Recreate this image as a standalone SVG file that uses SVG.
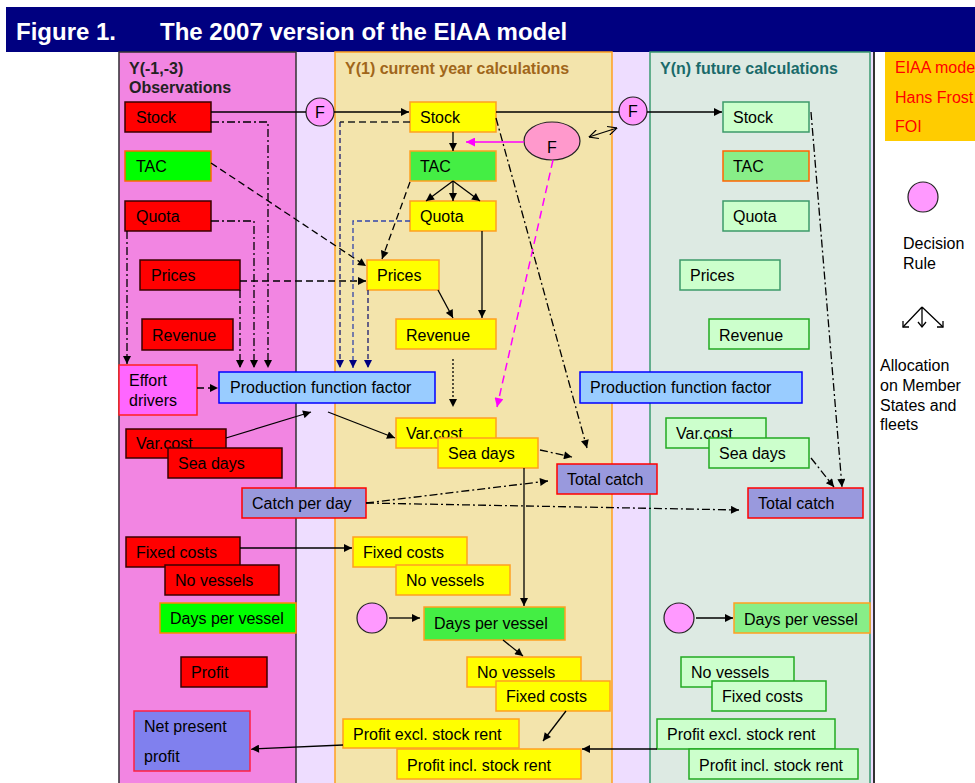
<svg xmlns="http://www.w3.org/2000/svg" width="975" height="783" viewBox="0 0 975 783">
<style>
text{font-family:"Liberation Sans",Arial,sans-serif;font-size:16px;fill:#000}
.hd{font-weight:bold}
.r{fill:#FF0000;stroke:#3a0000;stroke-width:1.5}
.y{fill:#FFFF00;stroke:#FFA020;stroke-width:1.5}
.g{fill:#CCFFCC;stroke:#3C9A6A;stroke-width:1.5}
.tc{fill:#9999DD;stroke:#FF0000;stroke-width:1.5}
.pf{fill:#99CCFF;stroke:#0000FF;stroke-width:1.5}
.dr{fill:#FF99FF;stroke:#222;stroke-width:1.2}
.c{fill:none;stroke:#000;stroke-width:1.3}
.dd{stroke-dasharray:8 3 2 3}
.ds{stroke-dasharray:7 4}
</style>
<defs>
<marker id="a" viewBox="0 0 10 10" refX="10" refY="5" markerWidth="10" markerHeight="8" markerUnits="userSpaceOnUse" orient="auto"><path d="M0,0 L10,5 L0,10 z" fill="#000"/></marker>
<marker id="an" viewBox="0 0 10 10" refX="10" refY="5" markerWidth="10" markerHeight="8" markerUnits="userSpaceOnUse" orient="auto"><path d="M0,0 L10,5 L0,10 z" fill="#000080"/></marker>
<marker id="am" viewBox="0 0 10 10" refX="10" refY="5" markerWidth="11" markerHeight="9" markerUnits="userSpaceOnUse" orient="auto"><path d="M0,0 L10,5 L0,10 z" fill="#FF00FF"/></marker>
<marker id="ao" viewBox="0 0 10 10" refX="10" refY="5" markerWidth="10" markerHeight="9" markerUnits="userSpaceOnUse" orient="auto-start-reverse"><path d="M0,0 L10,5 L0,10" fill="none" stroke="#000" stroke-width="1.3"/></marker>
</defs>

<!-- title bar -->
<rect x="6" y="7" width="969" height="45" fill="#000080"/>
<text x="16" y="40" class="hd" style="font-size:24px;fill:#fff">Figure 1.</text>
<text x="160" y="40" class="hd" style="font-size:24px;fill:#fff">The 2007 version of the EIAA model</text>

<!-- columns -->
<rect x="118" y="52" width="757" height="735" fill="#EEDDFF"/>
<rect x="119" y="52" width="177" height="735" fill="#F285E2" stroke="#333" stroke-width="1.5"/>
<rect x="335" y="52" width="277" height="735" fill="#F3E4AC" stroke="#FFA020" stroke-width="1.5"/>
<rect x="650" y="52" width="220" height="735" fill="#DDEAE3" stroke="#3A9A70" stroke-width="1.5"/>
<line x1="874" y1="52" x2="874" y2="783" stroke="#333" stroke-width="2"/>
<text x="129" y="74" class="hd" style="fill:#222">Y(-1,-3)</text>
<text x="129" y="93" class="hd" style="fill:#222">Observations</text>
<text x="345" y="74" class="hd" style="fill:#A0661A">Y(1) current year calculations</text>
<text x="660" y="74" class="hd" style="fill:#1A6A6A">Y(n) future calculations</text>

<!-- legend -->
<g id="legend">
<rect x="885" y="52" width="90" height="89" fill="#FFCC00"/>
<text x="895" y="73" style="fill:#FF0000">EIAA model</text>
<text x="895" y="103" style="fill:#FF0000">Hans Frost</text>
<text x="895" y="132" style="fill:#FF0000">FOI</text>
<circle cx="923" cy="197" r="15" class="dr"/>
<text x="903" y="249">Decision</text>
<text x="903" y="269">Rule</text>
<path d="M922,307 L903,327 M922,307 L922,327 M922,307 L943,327" class="c"/>
<path d="M903,321 L903,327 L909,327 M918,322 L922,327 L926,322 M937,327 L943,327 L943,321" class="c"/>
<text x="880" y="371">Allocation</text>
<text x="880" y="391">on Member</text>
<text x="880" y="411">States and</text>
<text x="880" y="430">fleets</text>
</g>

<!-- left column nodes -->
<g id="obs_stock"><rect x="125" y="102" width="86" height="30" class="r"/><text x="136" y="123">Stock</text></g>
<g id="obs_tac"><rect x="125" y="151" width="86" height="30" fill="#00FF00" stroke="#FF6600" stroke-width="1.5"/><text x="136" y="172">TAC</text></g>
<g id="obs_quota"><rect x="125" y="201" width="86" height="30" class="r"/><text x="136" y="222">Quota</text></g>
<g id="obs_prices"><rect x="140" y="260" width="100" height="30" class="r"/><text x="151" y="281">Prices</text></g>
<g id="obs_revenue"><rect x="142" y="319" width="91" height="31" class="r"/><text x="152" y="341">Revenue</text></g>
<g id="effort"><rect x="119" y="365" width="78" height="50" fill="#FF66FF" stroke="#FF2020" stroke-width="1.5"/><text x="129" y="386">Effort</text><text x="129" y="406">drivers</text></g>
<g id="pff1"><rect x="219" y="372" width="216" height="31" class="pf"/><text x="230" y="393">Production function factor</text></g>
<g id="obs_varcost"><rect x="126" y="429" width="100" height="29" class="r"/><text x="136" y="449">Var.cost</text></g>
<g id="obs_seadays"><rect x="168" y="448" width="114" height="30" class="r"/><text x="178" y="469">Sea days</text></g>
<g id="catchperday"><rect x="242" y="488" width="124" height="30" class="tc"/><text x="252" y="509">Catch per day</text></g>
<g id="obs_fixed"><rect x="126" y="537" width="114" height="30" class="r"/><text x="136" y="558">Fixed costs</text></g>
<g id="obs_novessels"><rect x="165" y="565" width="114" height="30" class="r"/><text x="175" y="586">No vessels</text></g>
<g id="obs_days"><rect x="160" y="603" width="136" height="30" fill="#00FF00" stroke="#FF8800" stroke-width="1.5"/><text x="170" y="624">Days per vessel</text></g>
<g id="obs_profit"><rect x="181" y="657" width="86" height="30" class="r"/><text x="191" y="678">Profit</text></g>
<g id="npp"><rect x="134" y="711" width="116" height="60" fill="#8080EE" stroke="#FF2040" stroke-width="1.5"/><text x="144" y="732">Net present</text><text x="144" y="762">profit</text></g>

<!-- middle column nodes -->
<g id="f1"><circle cx="320" cy="112" r="14" class="dr"/><text x="320" y="118" text-anchor="middle">F</text></g>
<g id="f2"><circle cx="633" cy="111" r="14" class="dr"/><text x="633" y="117" text-anchor="middle">F</text></g>
<g id="fell"><ellipse cx="552" cy="141" rx="28" ry="19" fill="#FF99CC" stroke="#222" stroke-width="1.2"/><text x="552" y="153" text-anchor="middle">F</text></g>
<g id="y_stock"><rect x="410" y="102" width="86" height="30" class="y"/><text x="420" y="123">Stock</text></g>
<g id="y_tac"><rect x="410" y="151" width="86" height="30" fill="#44EE44" stroke="#FFA020" stroke-width="1.5"/><text x="420" y="172">TAC</text></g>
<g id="y_quota"><rect x="410" y="201" width="86" height="30" class="y"/><text x="420" y="222">Quota</text></g>
<g id="y_prices"><rect x="367" y="260" width="72" height="30" class="y"/><text x="377" y="281">Prices</text></g>
<g id="y_revenue"><rect x="396" y="319" width="100" height="30" class="y"/><text x="406" y="341">Revenue</text></g>
<g id="y_varcost"><rect x="396" y="418" width="100" height="30" class="y"/><text x="406" y="439">Var.cost</text></g>
<g id="y_seadays"><rect x="438" y="438" width="100" height="30" class="y"/><text x="448" y="459">Sea days</text></g>
<g id="y_total"><rect x="557" y="464" width="100" height="30" class="tc"/><text x="567" y="485">Total catch</text></g>
<g id="y_fixed"><rect x="353" y="537" width="114" height="30" class="y"/><text x="363" y="558">Fixed costs</text></g>
<g id="y_novessels"><rect x="396" y="565" width="114" height="30" class="y"/><text x="406" y="586">No vessels</text></g>
<g id="y_rule"><circle cx="372" cy="618" r="15" class="dr"/></g>
<g id="y_days"><rect x="424" y="607" width="141" height="33" fill="#44EE44" stroke="#FFA020" stroke-width="1.5"/><text x="434" y="629">Days per vessel</text></g>
<g id="y_novessels2"><rect x="467" y="657" width="114" height="30" class="y"/><text x="477" y="678">No vessels</text></g>
<g id="y_fixed2"><rect x="496" y="681" width="114" height="30" class="y"/><text x="506" y="702">Fixed costs</text></g>
<g id="y_pex"><rect x="343" y="719" width="176" height="29" class="y"/><text x="353" y="740">Profit excl. stock rent</text></g>
<g id="y_pin"><rect x="397" y="749" width="184" height="30" class="y"/><text x="407" y="771">Profit incl. stock rent</text></g>

<!-- right column nodes -->
<g id="n_stock"><rect x="723" y="102" width="86" height="30" class="g"/><text x="733" y="123">Stock</text></g>
<g id="n_tac"><rect x="723" y="151" width="86" height="30" fill="#88EE88" stroke="#FF6600" stroke-width="1.5"/><text x="733" y="172">TAC</text></g>
<g id="n_quota"><rect x="723" y="201" width="86" height="30" class="g"/><text x="733" y="222">Quota</text></g>
<g id="n_prices"><rect x="680" y="260" width="100" height="30" class="g"/><text x="690" y="281">Prices</text></g>
<g id="n_revenue"><rect x="709" y="319" width="100" height="30" fill="#CCFFCC" stroke="#22AA22" stroke-width="1.5"/><text x="719" y="341">Revenue</text></g>
<g id="pff2"><rect x="580" y="372" width="222" height="31" class="pf"/><text x="590" y="393">Production function factor</text></g>
<g id="n_varcost"><rect x="666" y="418" width="100" height="30" fill="#CCFFCC" stroke="#22AA22" stroke-width="1.5"/><text x="676" y="439">Var.cost</text></g>
<g id="n_seadays"><rect x="709" y="438" width="100" height="30" fill="#CCFFCC" stroke="#22AA22" stroke-width="1.5"/><text x="719" y="459">Sea days</text></g>
<g id="n_total"><rect x="748" y="488" width="115" height="30" class="tc"/><text x="758" y="509">Total catch</text></g>
<g id="n_rule"><circle cx="679" cy="618" r="15" class="dr"/></g>
<g id="n_days"><rect x="734" y="603" width="136" height="30" fill="#88EE88" stroke="#FFA020" stroke-width="1.5"/><text x="744" y="625">Days per vessel</text></g>
<g id="n_novessels"><rect x="681" y="657" width="113" height="30" fill="#CCFFCC" stroke="#22AA22" stroke-width="1.5"/><text x="691" y="678">No vessels</text></g>
<g id="n_fixed"><rect x="712" y="681" width="114" height="30" fill="#CCFFCC" stroke="#22AA22" stroke-width="1.5"/><text x="722" y="702">Fixed costs</text></g>
<g id="n_pex"><rect x="657" y="719" width="178" height="30" fill="#CCFFCC" stroke="#22AA22" stroke-width="1.5"/><text x="667" y="740">Profit excl. stock rent</text></g>
<g id="n_pin"><rect x="689" y="749" width="169" height="30" fill="#CCFFCC" stroke="#22AA22" stroke-width="1.5"/><text x="699" y="771">Profit incl. stock rent</text></g>

<!-- connectors -->
<g id="connectors">
<line x1="211" y1="112" x2="306" y2="112" class="c"/>
<line x1="334" y1="112" x2="409" y2="112" class="c" marker-end="url(#a)"/>
<line x1="496" y1="112" x2="619" y2="112" class="c"/>
<line x1="647" y1="112" x2="722" y2="112" class="c" marker-end="url(#a)"/>
<line x1="453" y1="132" x2="453" y2="151" class="c" marker-end="url(#a)"/>
<line x1="524" y1="142" x2="466" y2="142" fill="none" stroke="#FF00FF" stroke-width="1.5" marker-end="url(#am)"/>
<line x1="589" y1="137" x2="617" y2="128" class="c" marker-start="url(#ao)" marker-end="url(#ao)"/>
<line x1="453" y1="181" x2="426" y2="201" class="c" marker-end="url(#a)"/>
<line x1="453" y1="181" x2="453" y2="201" class="c" marker-end="url(#a)"/>
<line x1="453" y1="181" x2="480" y2="201" class="c" marker-end="url(#a)"/>
<line x1="410" y1="182" x2="382" y2="259" class="c ds" marker-end="url(#a)"/>
<line x1="211" y1="163" x2="366" y2="266" class="c ds" marker-end="url(#a)"/>
<line x1="240" y1="281" x2="366" y2="281" class="c ds" marker-end="url(#a)"/>
<path d="M211,122 H268 V368" class="c dd" marker-end="url(#a)"/>
<path d="M211,221 H254 V368" class="c dd" marker-end="url(#a)"/>
<path d="M240,290 V368" class="c dd" marker-end="url(#a)"/>
<path d="M127,231 V364" class="c dd" marker-end="url(#a)"/>
<path d="M410,122 H340" fill="none" stroke="#222" stroke-width="1.3" class="ds"/>
<path d="M340,122 V368" fill="none" stroke="#1a1a70" stroke-width="1.3" stroke-dasharray="5 3" marker-end="url(#an)"/>
<path d="M410,221 H353 V368" fill="none" stroke="#3344AA" stroke-width="1.3" stroke-dasharray="5 3" marker-end="url(#an)"/>
<path d="M368,290 V368" fill="none" stroke="#1a1a70" stroke-width="1.3" stroke-dasharray="5 3" marker-end="url(#an)"/>
<line x1="197" y1="388" x2="218" y2="388" class="c ds" marker-end="url(#a)"/>
<line x1="226" y1="438" x2="311" y2="412" class="c" marker-end="url(#a)"/>
<line x1="328" y1="412" x2="395" y2="438" class="c" marker-end="url(#a)"/>
<line x1="438" y1="290" x2="453" y2="318" class="c" marker-end="url(#a)"/>
<line x1="482" y1="231" x2="482" y2="318" class="c" marker-end="url(#a)"/>
<line x1="453" y1="359" x2="453" y2="407" class="c" stroke-dasharray="2 2" marker-end="url(#a)"/>
<line x1="553" y1="160" x2="497" y2="407" fill="none" stroke="#FF00FF" stroke-width="1.5" stroke-dasharray="8 5" marker-end="url(#am)"/>
<line x1="496" y1="118" x2="587" y2="448" class="c dd" marker-end="url(#a)"/>
<line x1="540" y1="450" x2="572" y2="457" class="c dd" marker-end="url(#a)"/>
<line x1="366" y1="503" x2="548" y2="481" class="c dd" marker-end="url(#a)"/>
<line x1="366" y1="503" x2="739" y2="510" class="c dd" marker-end="url(#a)"/>
<line x1="524" y1="468" x2="524" y2="606" class="c" marker-end="url(#a)"/>
<line x1="240" y1="548" x2="352" y2="548" class="c" marker-end="url(#a)"/>
<line x1="389" y1="618" x2="420" y2="618" class="c" marker-end="url(#a)"/>
<line x1="503" y1="640" x2="523" y2="656" class="c" marker-end="url(#a)"/>
<line x1="566" y1="711" x2="543" y2="741" class="c" marker-end="url(#a)"/>
<line x1="343" y1="745" x2="251" y2="749" class="c" marker-end="url(#a)"/>
<line x1="657" y1="749" x2="582" y2="749" class="c" marker-end="url(#a)"/>
<line x1="811" y1="112" x2="842" y2="487" class="c dd" marker-end="url(#a)"/>
<line x1="811" y1="458" x2="834" y2="487" class="c dd" marker-end="url(#a)"/>
<line x1="696" y1="618" x2="733" y2="618" class="c" marker-end="url(#a)"/>
</g>
</svg>
